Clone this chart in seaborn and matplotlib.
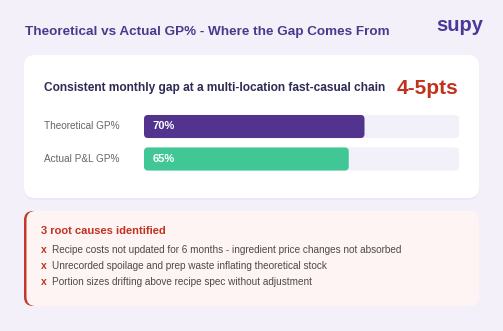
import matplotlib
matplotlib.use("Agg")
import matplotlib.pyplot as plt
from matplotlib.patches import FancyBboxPatch
import matplotlib.transforms as mtransforms
import pandas as pd
import seaborn as sns

# chart data
title = "Theoretical vs Actual GP% - Where the Gap Comes From"
brand = "supy"
heading = "Consistent monthly gap at a multi-location fast-casual chain"
gap_label = "4-5pts"
metrics = ["Theoretical GP%", "Actual P&L GP%"]
gp_values = [70, 65]
track_max = [100, 100]
causes_title = "3 root causes identified"
causes = [
    "Recipe costs not updated for 6 months - ingredient price changes not absorbed",
    "Unrecorded spoilage and prep waste inflating theoretical stock",
    "Portion sizes drifting above recipe spec without adjustment",
]

BG = "#f3f0fa"
PURPLE = "#52348f"
GREEN = "#40c795"
TRACK = "#f2f0f9"
RED = "#c0321e"
W, H = 503, 331

sns.set_theme(style="white")
plt.rcParams["font.family"] = ["Liberation Sans", "DejaVu Sans"]

fig = plt.figure(figsize=(W / 100, H / 100), dpi=100, facecolor=BG)

# background axes in pixel units for cards and text
bg = fig.add_axes([0, 0, 1, 1])
bg.set_xlim(0, W)
bg.set_ylim(H, 0)
bg.axis("off")
bg.set_facecolor(BG)

bg.text(25, 31.5, title, fontsize=9.7, fontweight="bold", color="#4a3a8c", va="center")
bg.text(460, 25.5, brand, fontsize=14.5, fontweight="bold", color="#4b3897", va="center", ha="center")

# white card with faint shadow
bg.add_patch(FancyBboxPatch((24, 57), 455, 143, boxstyle="round,pad=0,rounding_size=11",
                            fc="#e6e2f2", ec="none", alpha=0.6))
bg.add_patch(FancyBboxPatch((24, 55), 455, 143, boxstyle="round,pad=0,rounding_size=11",
                            fc="white", ec="none"))
bg.text(44, 88, heading, fontsize=8.6, fontweight="bold", color="#2d2a55", va="center")
bg.text(458, 88.5, gap_label, fontsize=15, fontweight="bold", color=RED, va="center", ha="right")

# causes box with red left edge
bg.add_patch(FancyBboxPatch((24, 211), 40, 95, boxstyle="round,pad=0,rounding_size=9",
                            fc="#c0392b", ec="none"))
bg.add_patch(FancyBboxPatch((26.5, 211), 452.5, 95, boxstyle="round,pad=0,rounding_size=9",
                            fc="#fff4f4", ec="none"))
bg.text(41, 231, causes_title, fontsize=8, fontweight="bold", color=RED, va="center")
for i, c in enumerate(causes):
    y = 250 + i * 16
    bg.text(41, y, "x", fontsize=7.5, fontweight="bold", color=RED, va="center")
    bg.text(52.5, y, c, fontsize=7.2, color="#4a4a4a", va="center")

# bar axes
df = pd.DataFrame({"metric": metrics, "value": gp_values, "track": track_max})
ax = fig.add_axes([144 / W, 1 - 175.25 / H, 315 / W, 65 / H])
sns.barplot(data=df, x="track", y="metric", color=TRACK, width=0.71, ax=ax, saturation=1)
sns.barplot(data=df, x="value", y="metric", hue="metric", palette=[PURPLE, GREEN],
            width=0.71, ax=ax, saturation=1, legend=False)
ax.set_xlim(0, 100)
ax.set_ylim(1.5, -0.5)
ax.axis("off")

# round the bar corners
px_x = 315 / 100
px_y = 65 / 2
r = 4 / px_x
aspect = (4 / px_y) / r
for p in list(ax.patches):
    x0, y0, w, h = p.get_x(), p.get_y(), p.get_width(), p.get_height()
    fb = FancyBboxPatch((x0, y0), w, h, boxstyle=f"round,pad=0,rounding_size={r}",
                        mutation_aspect=aspect, fc=p.get_facecolor(), ec="none")
    p.remove()
    ax.add_patch(fb)

trans = mtransforms.blended_transform_factory(bg.transData, ax.transData)
for i, (m, v) in enumerate(zip(metrics, gp_values)):
    ax.text(44, i, m, transform=trans, fontsize=7.2, color="#666666", va="center")
    ax.text(2.6, i, f"{v}%", fontsize=8, fontweight="bold", color="white", va="center")

fig.savefig("out.png", dpi=100, facecolor=BG)
